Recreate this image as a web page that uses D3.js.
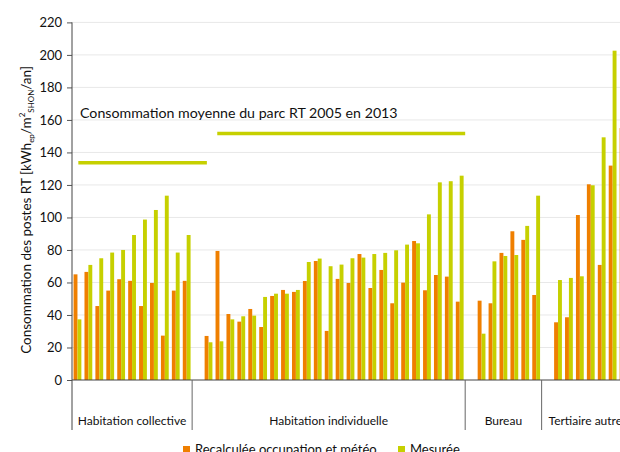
<!DOCTYPE html>
<html>
<head>
<meta charset="utf-8">
<script src="https://cdn.jsdelivr.net/npm/d3@7"></script>
<style>
  body { margin: 0; background: #fff; }
  svg { display: block; font-family: Lato, "Open Sans", sans-serif; }
</style>
</head>
<body>
<svg id="chart" width="620" height="452"></svg>
<script>
// groups of buildings, each with its own list of values
var groups = ["Habitation collective", "Habitation individuelle", "Bureau", "Tertiaire autre"];

var recalcCollective = [65, 66.5, 45.5, 55, 62, 61, 45.5, 59.7, 27.3, 55, 61];
var mesureCollective = [37.3, 70.8, 74.9, 78.4, 80, 89.2, 98.7, 104.6, 113.4, 78.4, 89.2];

var recalcIndividuelle = [27.1, 79.4, 40.6, 35.9, 43.7, 32.6, 51.7, 55.4, 54.2, 60.9, 73.2, 30.2,
    62.2, 59.7, 77.5, 56.6, 67.7, 47.2, 59.9, 85.5, 55.2, 64.6, 63.6, 48.2];
var mesureIndividuelle = [23.2, 23.8, 37.3, 39.2, 39.6, 51.1, 53.1, 53.1, 55.4, 72.6, 74.7, 70,
    71, 74.9, 75.3, 77.5, 78.2, 79.8, 83.3, 84.1, 101.9, 121.6, 122.3, 125.7];

var recalcBureau = [48.8, 47.2, 78.2, 91.5, 86.2, 52.3];
var mesureBureau = [28.5, 73.0, 76.3, 76.9, 94.8, 113.4];

var recalcTertiaire = [35.5, 38.6, 101.5, 120.4, 70.8, 131.9, 155];
var mesureTertiaire = [61.5, 62.8, 63.8, 119.8, 149.3, 202.6, null];

var seriesNames = ["Recalculée occupation et météo", "Mesurée"];
var seriesColors = ["#ef7f00", "#c6d000"];

var yTicks = [0, 20, 40, 60, 80, 100, 120, 140, 160, 180, 200, 220];

// average lines: position in category units, value
var avgLabel = "Consommation moyenne du parc RT 2005 en 2013";
var avgFrom = [0.58, 13.3];
var avgTo = [12.35, 36];
var avgValue = [133.7, 151.6];

var recalcByGroup = [recalcCollective, recalcIndividuelle, recalcBureau, recalcTertiaire];
var mesureByGroup = [mesureCollective, mesureIndividuelle, mesureBureau, mesureTertiaire];

// flatten into categories, a blank one before every group but the first
var cats = [];
var groupSpans = [];
groups.forEach(function (g, gi) {
    if (gi > 0) cats.push({ id: "blank" + gi, group: gi, values: [null, null] });
    var start = cats.length - (gi > 0 ? 1 : 0);
    recalcByGroup[gi].forEach(function (v, i) {
        cats.push({ id: g + i, group: gi, values: [v, mesureByGroup[gi][i]] });
    });
    groupSpans.push({ name: g, start: start, end: cats.length });
});

var svg = d3.select("#chart");
var plotLeft = 72, plotRight = 629, plotTop = 22.4, plotBottom = 380;

var x = d3.scaleBand()
    .domain(cats.map(function (d) { return d.id; }))
    .range([plotLeft, plotRight])
    .padding(0);
var xIdx = d3.scaleLinear().domain([0, cats.length]).range([plotLeft, plotRight]);
var x1 = d3.scaleBand()
    .domain([0, 1])
    .range([0, x.bandwidth()])
    .paddingInner(0)
    .paddingOuter(0.4);
var y = d3.scaleLinear().domain([0, 220]).range([plotBottom, plotTop]);

// gridlines
svg.append("g")
    .selectAll("line")
    .data(yTicks.slice(1))
    .join("line")
    .attr("x1", plotLeft).attr("x2", 620)
    .attr("y1", function (d) { return y(d); })
    .attr("y2", function (d) { return y(d); })
    .attr("stroke", "#e8e8e8")
    .attr("stroke-width", 1);

// bars
var catG = svg.append("g")
    .selectAll("g")
    .data(cats)
    .join("g")
    .attr("transform", function (d) { return "translate(" + x(d.id) + ",0)"; });
catG.selectAll("rect")
    .data(function (d) { return d.values.map(function (v, i) { return { v: v, s: i }; }).filter(function (e) { return e.v != null; }); })
    .join("rect")
    .attr("x", function (e) { return x1(e.s); })
    .attr("width", x1.bandwidth())
    .attr("y", function (e) { return y(e.v); })
    .attr("height", function (e) { return y(0) - y(e.v); })
    .attr("fill", function (e) { return seriesColors[e.s]; });

// average lines and label
svg.append("g")
    .selectAll("line")
    .data(avgValue)
    .join("line")
    .attr("x1", function (d, i) { return xIdx(avgFrom[i]); })
    .attr("x2", function (d, i) { return xIdx(avgTo[i]); })
    .attr("y1", function (d) { return y(d); })
    .attr("y2", function (d) { return y(d); })
    .attr("stroke", seriesColors[1])
    .attr("stroke-width", 3.5);
svg.append("text")
    .attr("x", 80)
    .attr("y", 118)
    .attr("font-size", 14.2)
    .attr("fill", "#111")
    .text(avgLabel);

// y axis
var yAxis = svg.append("g")
    .attr("transform", "translate(" + plotLeft + ",0)")
    .call(d3.axisLeft(y).tickValues(yTicks).tickSize(5).tickPadding(5).tickSizeOuter(0));
yAxis.select(".domain").remove();
yAxis.selectAll("line").attr("stroke", "#555");
yAxis.selectAll("text").attr("font-size", 13).attr("fill", "#111").attr("font-family", "Lato, sans-serif");
svg.append("line")
    .attr("x1", plotLeft).attr("x2", plotLeft)
    .attr("y1", plotTop).attr("y2", 430)
    .attr("stroke", "#444");

// x axis and group separators
svg.append("line")
    .attr("x1", plotLeft).attr("x2", 620)
    .attr("y1", plotBottom).attr("y2", plotBottom)
    .attr("stroke", "#444");
svg.append("g")
    .selectAll("line")
    .data(groupSpans.slice(1))
    .join("line")
    .attr("x1", function (d) { return xIdx(d.start); })
    .attr("x2", function (d) { return xIdx(d.start); })
    .attr("y1", plotBottom).attr("y2", 430)
    .attr("stroke", "#666");
svg.append("g")
    .selectAll("text")
    .data(groupSpans)
    .join("text")
    .attr("x", function (d) { return (xIdx(d.start) + xIdx(d.end)) / 2; })
    .attr("y", 425)
    .attr("text-anchor", "middle")
    .attr("font-size", 12)
    .attr("fill", "#111")
    .text(function (d) { return d.name; });

// y title
var title = svg.append("text")
    .attr("transform", "translate(31,210) rotate(-90)")
    .attr("text-anchor", "middle")
    .attr("font-size", 13.5)
    .attr("fill", "#111");
title.append("tspan").text("Consommation des postes RT [kWh");
title.append("tspan").attr("font-size", 8).attr("dy", 3).text("ep");
title.append("tspan").attr("dy", -3).text("/m");
title.append("tspan").attr("font-size", 8).attr("dy", -6).text("2");
title.append("tspan").attr("font-size", 8).attr("dy", 9).text("SHON");
title.append("tspan").attr("dy", -3).text("/an]");

// legend
var legendX = [183, 398];
var leg = svg.append("g")
    .selectAll("g")
    .data(seriesNames)
    .join("g")
    .attr("transform", function (d, i) { return "translate(" + legendX[i] + ",446)"; });
leg.append("rect")
    .attr("width", 7).attr("height", 7)
    .attr("fill", function (d, i) { return seriesColors[i]; });
leg.append("text")
    .attr("x", 12).attr("y", 8)
    .attr("font-size", 13)
    .attr("fill", "#111")
    .text(function (d) { return d; });
</script>
</body>
</html>
